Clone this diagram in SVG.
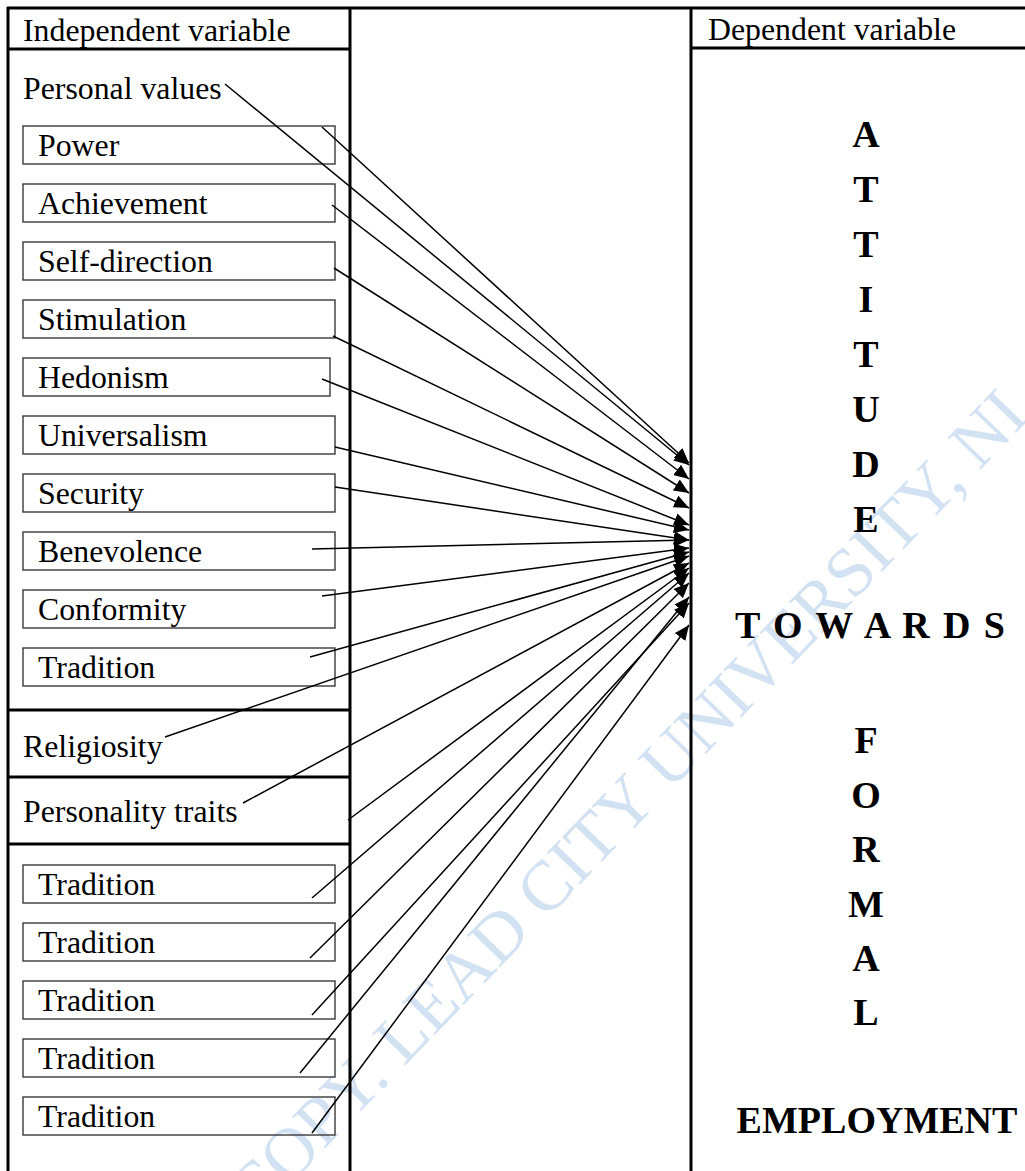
<svg xmlns="http://www.w3.org/2000/svg" width="1025" height="1171" viewBox="0 0 1025 1171">
<style>
.frame{stroke:#000;stroke-width:3;fill:none}
.box{fill:none;stroke:#3a3a3a;stroke-width:1.4}
.t{font-family:"Liberation Serif","Times New Roman",serif;font-size:31.8px;fill:#000}
.big{font-family:"Liberation Serif","Times New Roman",serif;font-size:38px;font-weight:bold;fill:#000;text-anchor:middle}
.c{stroke:#000;stroke-width:1.5;fill:none;marker-end:url(#ah)}
.wm{font-family:"Liberation Serif","Times New Roman",serif;font-size:70px;fill:#d3e2f3}
</style>
<defs>
<marker id="ah" markerUnits="userSpaceOnUse" markerWidth="15" markerHeight="13" refX="15" refY="6.5" orient="auto">
<path d="M0,0 L15,6.5 L0,13 Z" fill="#000"/>
</marker>
</defs>
<rect width="1025" height="1171" fill="#fff"/>
<text class="wm" transform="translate(256,1220) rotate(-46)">COPY. LEAD CITY UNIVERSITY, NI</text>
<g id="frame">
<line class="frame" x1="7" y1="8" x2="1025" y2="8"/>
<line class="frame" x1="8" y1="7" x2="8" y2="1171"/>
<line class="frame" x1="350" y1="7" x2="350" y2="1171"/>
<line class="frame" x1="691" y1="7" x2="691" y2="1171"/>
<line class="frame" x1="8" y1="49" x2="350" y2="49"/>
<line class="frame" x1="691" y1="48" x2="1025" y2="48"/>
<line class="frame" x1="8" y1="710" x2="350" y2="710"/>
<line class="frame" x1="8" y1="777" x2="350" y2="777"/>
<line class="frame" x1="8" y1="844" x2="350" y2="844"/>
</g>
<g id="independent-header"><text class="t" x="23" y="41">Independent variable</text></g>
<g id="dependent-header"><text class="t" x="708" y="40">Dependent variable</text></g>
<g id="personal-values"><text class="t" x="23" y="99">Personal values</text></g>
<g id="power"><rect class="box" x="23" y="126" width="312" height="38"/><text class="t" x="38" y="156">Power</text></g>
<g id="achievement"><rect class="box" x="23" y="184" width="312" height="38"/><text class="t" x="38" y="214">Achievement</text></g>
<g id="self-direction"><rect class="box" x="23" y="242" width="312" height="38"/><text class="t" x="38" y="272">Self-direction</text></g>
<g id="stimulation"><rect class="box" x="23" y="300" width="312" height="38"/><text class="t" x="38" y="330">Stimulation</text></g>
<g id="hedonism"><rect class="box" x="23" y="358" width="307" height="38"/><text class="t" x="38" y="388">Hedonism</text></g>
<g id="universalism"><rect class="box" x="23" y="416" width="312" height="38"/><text class="t" x="38" y="446">Universalism</text></g>
<g id="security"><rect class="box" x="23" y="474" width="312" height="38"/><text class="t" x="38" y="504">Security</text></g>
<g id="benevolence"><rect class="box" x="23" y="532" width="312" height="38"/><text class="t" x="38" y="562">Benevolence</text></g>
<g id="conformity"><rect class="box" x="23" y="590" width="312" height="38"/><text class="t" x="38" y="620">Conformity</text></g>
<g id="tradition"><rect class="box" x="23" y="648" width="312" height="38"/><text class="t" x="38" y="678">Tradition</text></g>
<g id="religiosity"><text class="t" x="23" y="757">Religiosity</text></g>
<g id="personality-traits"><text class="t" x="23" y="822">Personality traits</text></g>
<g id="tradition-1"><rect class="box" x="23" y="865" width="312" height="38"/><text class="t" x="38" y="895">Tradition</text></g>
<g id="tradition-2"><rect class="box" x="23" y="923" width="312" height="38"/><text class="t" x="38" y="953">Tradition</text></g>
<g id="tradition-3"><rect class="box" x="23" y="981" width="312" height="38"/><text class="t" x="38" y="1011">Tradition</text></g>
<g id="tradition-4"><rect class="box" x="23" y="1039" width="312" height="38"/><text class="t" x="38" y="1069">Tradition</text></g>
<g id="tradition-5"><rect class="box" x="23" y="1097" width="312" height="38"/><text class="t" x="38" y="1127">Tradition</text></g>
<g id="attitude">
<text class="big" x="866" y="147">A</text>
<text class="big" x="866" y="202">T</text>
<text class="big" x="866" y="257">T</text>
<text class="big" x="866" y="312">I</text>
<text class="big" x="866" y="367">T</text>
<text class="big" x="866" y="422">U</text>
<text class="big" x="866" y="477">D</text>
<text class="big" x="866" y="532">E</text>
</g>
<g id="towards"><text class="big" x="870" y="638" textLength="270" lengthAdjust="spacing">T O W A R D S</text></g>
<g id="formal">
<text class="big" x="866" y="753">F</text>
<text class="big" x="866" y="808">O</text>
<text class="big" x="866" y="862">R</text>
<text class="big" x="866" y="917">M</text>
<text class="big" x="866" y="971">A</text>
<text class="big" x="866" y="1025">L</text>
</g>
<g id="employment"><text class="big" x="877" y="1133">EMPLOYMENT</text></g>
<g id="connectors">
<line class="c" x1="225" y1="84" x2="689" y2="465"/>
<line class="c" x1="322" y1="127" x2="689" y2="463"/>
<line class="c" x1="332" y1="205" x2="689" y2="479"/>
<line class="c" x1="334" y1="268" x2="689" y2="493"/>
<line class="c" x1="333" y1="336" x2="689" y2="508"/>
<line class="c" x1="322" y1="379" x2="689" y2="525"/>
<line class="c" x1="335" y1="447" x2="689" y2="530"/>
<line class="c" x1="335" y1="487" x2="689" y2="540"/>
<line class="c" x1="312" y1="549" x2="689" y2="540"/>
<line class="c" x1="322" y1="596" x2="689" y2="548"/>
<line class="c" x1="310" y1="657" x2="689" y2="552"/>
<line class="c" x1="165" y1="737" x2="689" y2="556"/>
<line class="c" x1="243" y1="803" x2="689" y2="563"/>
<line class="c" x1="348" y1="820" x2="689" y2="568"/>
<line class="c" x1="312" y1="898" x2="689" y2="573"/>
<line class="c" x1="310" y1="958" x2="689" y2="583"/>
<line class="c" x1="312" y1="1015" x2="689" y2="603"/>
<line class="c" x1="300" y1="1073" x2="689" y2="597"/>
<line class="c" x1="312" y1="1133" x2="689" y2="625"/>
</g>
</svg>
